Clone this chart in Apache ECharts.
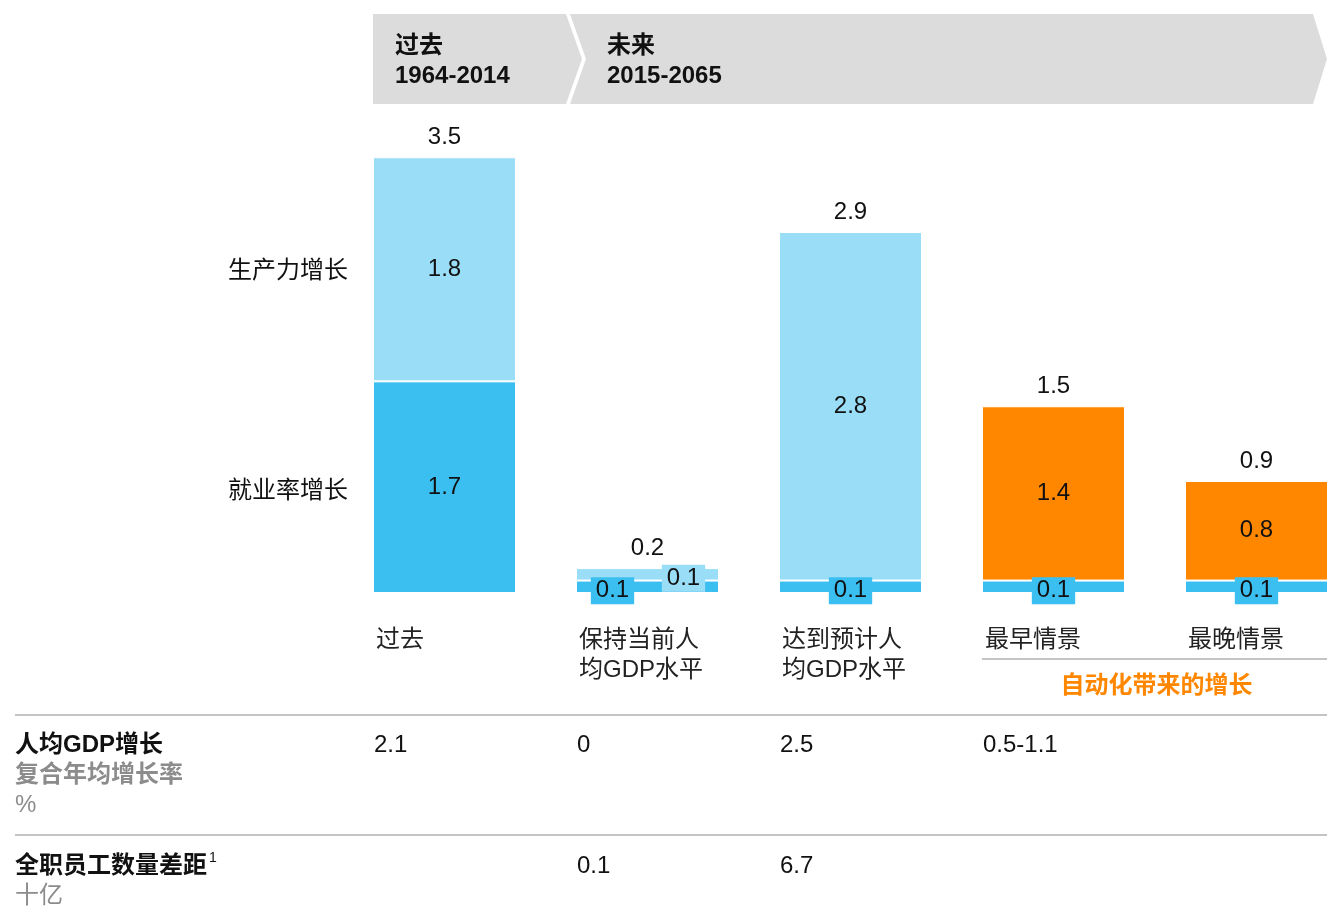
<!DOCTYPE html>
<html>
<head>
<meta charset="utf-8">
<script src="https://cdn.jsdelivr.net/npm/echarts@6/dist/echarts.min.js"></script>
<style>
  html, body { margin: 0; padding: 0; background: #fff; }
  #chart { width: 1327px; height: 917px; }
</style>
</head>
<body>
<div id="chart"></div>
<script>
// GDP per capita growth decomposition, % compound annual growth
const categories = ['过去', '保持当前人\n均GDP水平', '达到预计人\n均GDP水平', '最早情景', '最晚情景'];
const employmentGrowth = [1.7, 0.1, 0.1, 0.1, 0.1];
const productivityGrowth = [1.8, 0.1, 2.8, null, null];
const automationGrowth = [null, null, null, 1.4, 0.8];
const totals = [3.5, 0.2, 2.9, 1.5, 0.9];
const gdpPerCapitaGrowth = ['2.1', '0', '2.5', '0.5-1.1', ''];
const fteGap = ['', '0.1', '6.7', '', ''];
const headerPast = ['过去', '1964-2014'];
const headerFuture = ['未来', '2015-2065'];

const DARK = '#3BBFF1';
const LIGHT = '#9ADDF7';
const ORANGE = '#FF8700';
const FONT = '"Liberation Sans", Arial, "Noto Sans CJK SC", sans-serif';
const BAR_W = 143;

const chart = echarts.init(document.getElementById('chart'), null, { renderer: 'canvas' });

const baseLabel = {
  show: true, position: 'inside', color: '#111', fontSize: 24, fontFamily: FONT,
  formatter: p => p.value
};
const boxLabel = (bg, dx) => ({
  backgroundColor: bg, padding: [2, 5, 1, 5], offset: [dx, 4]
});

chart.setOption({
  animation: false,
  backgroundColor: '#fff',
  // category centres sit on the grid edges (boundaryGap off), bars overhang it
  grid: { left: 444.5, top: 95, right: 70.5, height: 498 },
  xAxis: {
    type: 'category', data: categories, boundaryGap: false,
    axisLine: { show: false }, axisTick: { show: false }, axisLabel: { show: false }
  },
  yAxis: {
    type: 'value', min: 0, max: 4,
    axisLine: { show: false }, axisTick: { show: false },
    axisLabel: { show: false }, splitLine: { show: false }
  },
  series: [
    {
      name: '就业率增长', type: 'bar', stack: 'gdp', barWidth: BAR_W, clip: false,
      itemStyle: { color: DARK, borderColor: '#fff', borderWidth: 1 },
      label: baseLabel,
      data: employmentGrowth.map((v, i) => ({
        value: v,
        label: i === 0 ? {} : boxLabel(DARK, i === 1 ? -35 : 0)
      }))
    },
    {
      name: '生产力增长', type: 'bar', stack: 'gdp', barWidth: BAR_W, clip: false,
      itemStyle: { color: LIGHT, borderColor: '#fff', borderWidth: 1 },
      label: baseLabel,
      data: productivityGrowth.map((v, i) => ({
        value: v,
        label: i === 1 ? boxLabel(LIGHT, 36) : {}
      }))
    },
    {
      name: '自动化带来的增长', type: 'bar', stack: 'gdp', barWidth: BAR_W, clip: false,
      itemStyle: { color: ORANGE, borderColor: '#fff', borderWidth: 1 },
      label: baseLabel,
      data: automationGrowth
    },
    {
      // zero-height cap on each stack carrying the total
      name: '合计', type: 'bar', stack: 'gdp', barWidth: BAR_W, clip: false, silent: true,
      itemStyle: { color: 'rgba(0,0,0,0)', borderWidth: 0 },
      label: {
        show: true, position: 'top', distance: 8, color: '#111',
        fontSize: 24, fontFamily: FONT, formatter: p => totals[p.dataIndex]
      },
      data: totals.map(() => 0)
    }
  ]
});

// Annotations placed against the axes' own pixel positions
const cx = i => chart.convertToPixel({ xAxisIndex: 0 }, i);
const py = v => chart.convertToPixel({ yAxisIndex: 0 }, v);
const barLeft = i => cx(i) - BAR_W / 2;

const txt = (text, x, y, opts = {}) => ({
  type: 'text', x, y, silent: true,
  style: Object.assign({
    text, fill: '#111', fontSize: 24, fontFamily: FONT,
    textAlign: 'left', textVerticalAlign: 'middle'
  }, opts)
});
const hline = (x1, x2, y) => ({
  type: 'line', silent: true,
  shape: { x1, y1: y, x2, y2: y },
  style: { stroke: '#C4C4C4', lineWidth: 2 }
});

const g = [];

// Header chevrons
g.push({ type: 'polygon', silent: true,
  shape: { points: [[373, 14], [566, 14], [582, 59], [566, 104], [373, 104]] },
  style: { fill: '#DCDCDC' } });
g.push({ type: 'polygon', silent: true,
  shape: { points: [[570, 14], [1313, 14], [1327, 59], [1313, 104], [570, 104], [586, 59]] },
  style: { fill: '#DCDCDC' } });
g.push(txt(headerPast[0], 395, 46, { fontWeight: 'bold' }));
g.push(txt(headerPast[1], 395, 76, { fontWeight: 'bold' }));
g.push(txt(headerFuture[0], 607, 46, { fontWeight: 'bold' }));
g.push(txt(headerFuture[1], 607, 76, { fontWeight: 'bold' }));

// Series names beside the first bar
g.push(txt('生产力增长', barLeft(0) - 25, py(employmentGrowth[0] + productivityGrowth[0] / 2) + 2, { textAlign: 'right' }));
g.push(txt('就业率增长', barLeft(0) - 25, py(employmentGrowth[0] / 2) + 4, { textAlign: 'right' }));

// Category labels, left-aligned under each bar
categories.forEach((c, i) => {
  g.push(txt(c, barLeft(i) + 3, 625, { textVerticalAlign: 'top', lineHeight: 30, fill: '#222' }));
});

// Automation bracket
g.push(hline(barLeft(3), 1327, 659));
g.push(txt('自动化带来的增长', (barLeft(3) + 1327) / 2 + 2, 686,
  { textAlign: 'center', fill: ORANGE, fontWeight: 'bold' }));

// Table rows
g.push(hline(15, 1327, 715));
g.push(hline(15, 1327, 835));
g.push(txt('人均GDP增长', 15, 745, { fontWeight: 'bold' }));
g.push(txt('复合年均增长率', 15, 775, { fill: '#8C8C8C', fontWeight: 'bold' }));
g.push(txt('%', 15, 805, { fill: '#8C8C8C' }));
g.push(txt('全职员工数量差距', 15, 866, { fontWeight: 'bold' }));
g.push(txt('1', 209, 858, { fontSize: 14 }));
g.push(txt('十亿', 15, 896, { fill: '#8C8C8C' }));
gdpPerCapitaGrowth.forEach((v, i) => { if (v) g.push(txt(v, barLeft(i) + 1, 745)); });
fteGap.forEach((v, i) => { if (v) g.push(txt(v, barLeft(i) + 1, 866)); });

chart.setOption({ graphic: { elements: g } });
</script>
</body>
</html>
